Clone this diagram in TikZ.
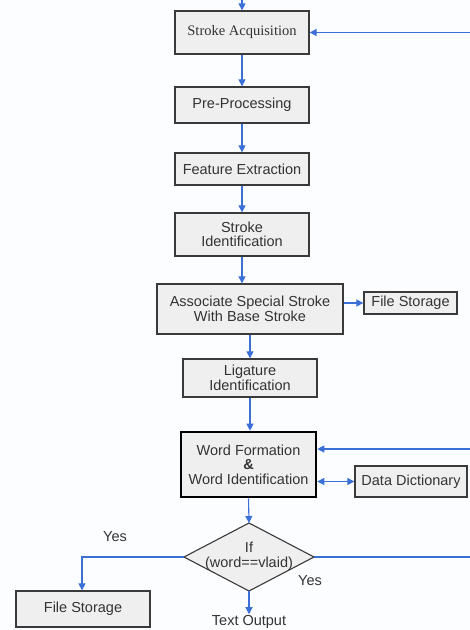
\documentclass[tikz,border=0pt]{standalone}
\usepackage{fontspec}
\setmainfont{Liberation Sans}
\newfontfamily\serifA{Liberation Serif}
\usetikzlibrary{arrows.meta}
\definecolor{arr}{HTML}{3A6FD8}
\definecolor{boxfill}{HTML}{EFEFEF}
\definecolor{boxline}{HTML}{3A3A3A}
\definecolor{txt}{HTML}{333333}
\definecolor{bg}{HTML}{FBFDFF}
\begin{document}
\begin{tikzpicture}[x=1pt,y=-1pt,
  box/.style={draw=boxline, fill=boxfill, line width=1.3pt, inner sep=0pt, align=center, text=txt, font=\fontsize{14.5}{14.5}\selectfont},
  lbl/.style={text=txt, inner sep=1pt, font=\fontsize{14.5}{14.5}\selectfont},
  flow/.style={draw=arr, line width=1.1pt, -{Triangle[length=7pt,width=7pt]}},
  flowboth/.style={draw=arr, line width=1.1pt, {Triangle[length=7pt,width=7pt]}-{Triangle[length=7pt,width=7pt]}},
  plain/.style={draw=arr, line width=1.1pt}]
\useasboundingbox (0,0) rectangle (470,630);
\fill[bg] (0,0) rectangle (470,630);

\node[box, minimum width=134pt, minimum height=43pt, font=\serifA\fontsize{14.5}{14.5}\selectfont] (sa) at (242,32.5) {Stroke Acquisition};
\node[box, minimum width=134pt, minimum height=36pt] (pp) at (242,105) {Pre-Processing};
\node[box, minimum width=134pt, minimum height=32pt] (fe) at (242,169) {Feature Extraction};
\node[box, minimum width=134pt, minimum height=43pt] (si) at (242,234.5) {Stroke\\Identification};
\node[box, minimum width=186pt, minimum height=50pt] (as) at (250,309) {Associate Special Stroke\\With Base Stroke};
\node[box, minimum width=93pt, minimum height=22pt] (fs1) at (410.5,303) {File Storage};
\node[box, minimum width=134pt, minimum height=38pt] (li) at (250,378) {Ligature\\Identification};
\node[box, draw=black, line width=2.6pt, minimum width=135pt, minimum height=65pt] (wf) at (248.5,464.5) {Word Formation\\\textbf{\&}\\Word Identification};
\node[box, minimum width=112pt, minimum height=31pt] (dd) at (411,481.5) {Data Dictionary};

% decision diamond
\coordinate (dT) at (249,523);
\coordinate (dR) at (314,557);
\coordinate (dB) at (249,591);
\coordinate (dL) at (184,557);
\filldraw[draw=boxline, fill=boxfill, line width=1.1pt] (dT) -- (dR) -- (dB) -- (dL) -- cycle;
\node[lbl, align=center, font=\fontsize{14.5}{15}\selectfont] (dtext) at (249,556) {If\\(word==vlaid)};

\node[box, minimum width=134pt, minimum height=36pt] (fs2) at (83,609) {File Storage};
\node[lbl] (out) at (249,622) {Text Output};
\node[lbl] (yes1) at (115,537) {Yes};
\node[lbl] (yes2) at (310,581) {Yes};

% external ends
\coordinate (top) at (242,0);
\coordinate (in1) at (470,32.5);
\coordinate (in2) at (470,449);
\coordinate (outR) at (470,557);
\coordinate (bendL) at (82,557);

% connectors
\draw[flow] (top) -- (sa.north);
\draw[flow] (in1) -- (sa.east);
\draw[flow] (sa.south) -- (pp.north);
\draw[flow] (pp.south) -- (fe.north);
\draw[flow] (fe.south) -- (si.north);
\draw[flow] (si.south) -- (si.south |- as.north);
\draw[flow] (as.east |- fs1.west) -- (fs1.west);
\draw[flow] (as.south) -- (li.north);
\draw[flow] (li.south -| wf.north) ++(1.5,0) -- ([xshift=1.5pt]wf.north);
\draw[flow] (in2) -- (wf.east |- in2);
\draw[flowboth] (wf.east |- dd.west) -- (dd.west);
\draw[flow] (wf.south) -- (dT);
\draw[flow] (dL) -- (bendL) -- (fs2.north -| bendL);
\draw[plain] (dR) -- (outR);
\draw[flow] (dB) -- (out.north);
\end{tikzpicture}
\end{document}
